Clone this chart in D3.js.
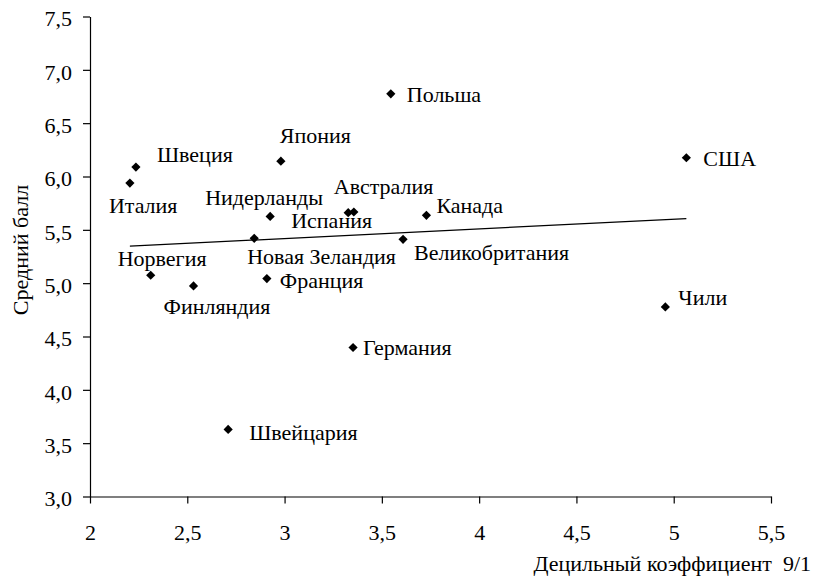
<!DOCTYPE html>
<html>
<head>
<meta charset="utf-8">
<script src="https://cdn.jsdelivr.net/npm/d3@7"></script>
</head>
<body style="margin:0;background:#fff">
<svg id="grafico" width="815" height="583"></svg>
<script>
// Datos
var paises = ["Польша", "Швеция", "Италия", "Япония", "Нидерланды", "Австралия", "Испания",
  "Канада", "Великобритания", "Новая Зеландия", "Норвегия", "Франция", "Финляндия",
  "США", "Чили", "Германия", "Швейцария"];
var coefDecil = [3.546, 2.236, 2.205, 2.981, 2.926, 3.356, 3.327,
  3.729, 3.609, 2.844, 2.312, 2.909, 2.532,
  5.065, 4.957, 3.352, 2.710];
var puntaje = [6.775, 6.088, 5.938, 6.144, 5.626, 5.667, 5.661,
  5.636, 5.411, 5.420, 5.074, 5.043, 4.974,
  6.176, 4.777, 4.397, 3.629];
var ticksX = [2, 2.5, 3, 3.5, 4, 4.5, 5, 5.5];
var ticksY = [3, 3.5, 4, 4.5, 5, 5.5, 6, 6.5, 7, 7.5];

// desplazamiento de cada etiqueta respecto a su punto (px)
var offsets = [[16, 8], [21, -5], [-21, 30], [-1, -18], [-65, -11], [-20, -18], [-57, 15],
  [10, -2], [11, 21], [-7, 26], [-33, -9], [13, 9], [-30, 28],
  [17, 8], [13, -2], [10, 8], [21, 11]];

var fuente = "'Liberation Serif', 'Times New Roman', serif";
var tam = "22px";

var svg = d3.select("#grafico");

var x = d3.scaleLinear().domain([2, 5.5]).range([90, 771]);
var y = d3.scaleLinear().domain([3, 7.5]).range([496.5, 16.5]);

var coma = function (d) { return String(d).replace(".", ","); };

// eje X
var ejeX = svg.append("g")
  .attr("transform", "translate(0," + y(3) + ")")
  .call(d3.axisBottom(x).tickValues(ticksX).tickSize(7).tickSizeOuter(0).tickFormat(coma))
  .attr("font-family", null).attr("font-size", null);
ejeX.selectAll("text").attr("y", 43).attr("dy", 0);

// eje Y
var ejeY = svg.append("g")
  .attr("transform", "translate(" + x(2) + ",0)")
  .call(d3.axisLeft(y).tickValues(ticksY).tickSize(7).tickSizeOuter(0)
    .tickFormat(function (d) { return d3.format(".1f")(d).replace(".", ","); }))
  .attr("font-family", null).attr("font-size", null);
ejeY.selectAll("text").attr("x", -18).attr("dy", "0.43em");

svg.selectAll(".domain, .tick line").attr("stroke", "#000").attr("stroke-width", 1.2);

// línea de tendencia (regresión lineal)
var mx = d3.mean(coefDecil), my = d3.mean(puntaje);
var sxy = d3.sum(coefDecil, function (v, i) { return (v - mx) * (puntaje[i] - my); });
var sxx = d3.sum(coefDecil, function (v) { return (v - mx) * (v - mx); });
var pend = sxy / sxx, inter = my - pend * mx;
var xMin = d3.min(coefDecil), xMax = d3.max(coefDecil);
svg.append("line")
  .attr("x1", x(xMin)).attr("y1", y(inter + pend * xMin))
  .attr("x2", x(xMax)).attr("y2", y(inter + pend * xMax))
  .attr("stroke", "#000").attr("stroke-width", 1.2);

// puntos
var datos = paises.map(function (p, i) {
  return { nombre: p, cx: coefDecil[i], cy: puntaje[i], off: offsets[i] };
});

svg.selectAll(".punto")
  .data(datos)
  .enter().append("path")
  .attr("class", "punto")
  .attr("d", "M0,-4.6L4.6,0L0,4.6L-4.6,0Z")
  .attr("transform", function (d) { return "translate(" + x(d.cx) + "," + y(d.cy) + ")"; })
  .attr("fill", "#000");

svg.selectAll(".etiqueta")
  .data(datos)
  .enter().append("text")
  .attr("class", "etiqueta")
  .attr("x", function (d) { return x(d.cx) + d.off[0]; })
  .attr("y", function (d) { return y(d.cy) + d.off[1]; })
  .text(function (d) { return d.nombre; });

// títulos de ejes
svg.append("text")
  .attr("transform", "translate(28,250) rotate(-90)")
  .attr("text-anchor", "middle")
  .text("Средний балл");

svg.append("text")
  .attr("x", 811).attr("y", 571)
  .attr("text-anchor", "end")
  .attr("xml:space", "preserve")
  .text("Децильный коэффициент  9/1");

// tipografía (con prioridad "important")
svg.selectAll("text")
  .attr("font-family", "Liberation Serif")
  .style("font-family", fuente, "important")
  .style("font-size", tam, "important")
  .attr("fill", "#000");
</script>
</body>
</html>
